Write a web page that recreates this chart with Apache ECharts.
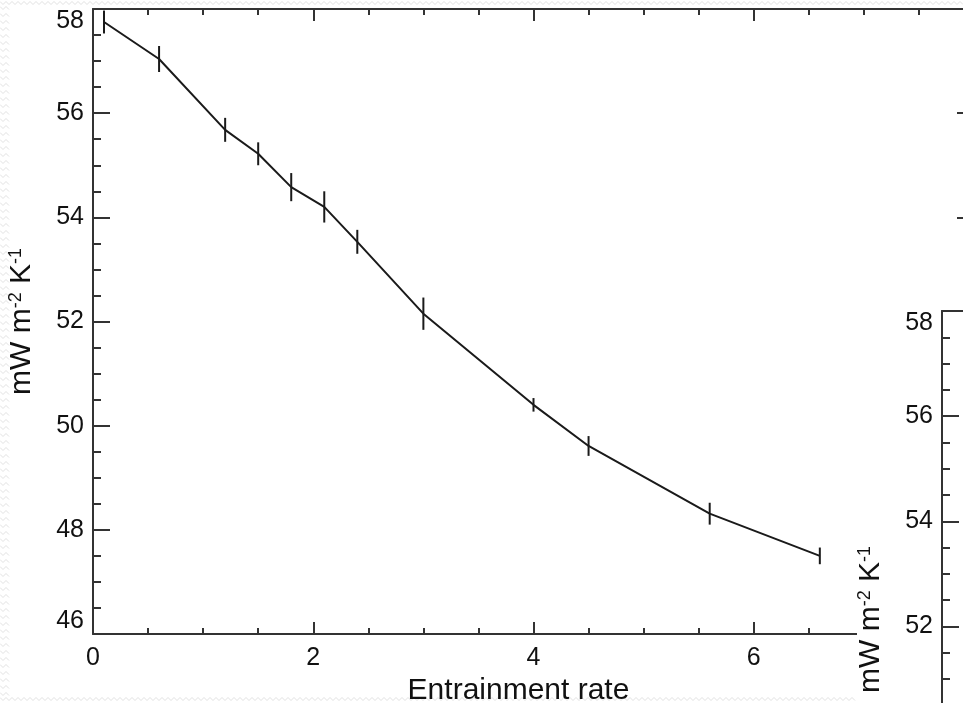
<!DOCTYPE html>
<html>
<head>
<meta charset="utf-8">
<script src="https://cdn.jsdelivr.net/npm/echarts@6/dist/echarts.min.js"></script>
<style>
html,body{margin:0;padding:0;background:#fff;}
#chart{width:963px;height:703px;}
</style>
</head>
<body>
<div id="chart"></div>
<script>
// Data
const xValues = [0.1, 0.6, 1.2, 1.5, 1.8, 2.1, 2.4, 3.0, 4.0, 4.5, 5.6, 6.6];
const yValues = [57.75, 57.04, 55.68, 55.22, 54.58, 54.20, 53.53, 52.15, 50.40, 49.61, 48.31, 47.50];
const yErrors = [0.22, 0.25, 0.23, 0.22, 0.27, 0.30, 0.23, 0.31, 0.13, 0.19, 0.21, 0.16];
const xAxisTitle = 'Entrainment rate';
const yAxisTitle = '{t|mW m}{s|-2}{t| K}{s|-1}';

const FONT = '"Liberation Sans", Arial, Helvetica, sans-serif';
const AX = '#333';
const TXT = '#111';

const lineData = xValues.map((x, i) => [x, yValues[i]]);
const errData = xValues.map((x, i) => [x, yValues[i], yValues[i] - yErrors[i], yValues[i] + yErrors[i]]);

const chart = echarts.init(document.getElementById('chart'), null, {renderer: 'canvas'});

function xAx(grid, pos, extra) {
  return Object.assign({
    gridIndex: grid, type: 'value', position: pos, min: 0, max: 8, interval: 2, z: 5,
    axisLine: {show: true, onZero: false, lineStyle: {color: AX, width: 2}},
    axisTick: {show: true, inside: true, length: 12, lineStyle: {color: AX, width: 2}},
    minorTick: {show: true, splitNumber: 4, length: 6, lineStyle: {color: AX, width: 2}},
    splitLine: {show: false}, minorSplitLine: {show: false},
    axisLabel: {show: false}
  }, extra || {});
}
function yAx(grid, pos, extra) {
  return Object.assign({
    gridIndex: grid, type: 'value', position: pos, min: 46, max: 58, interval: 2, z: 5,
    axisLine: {show: true, onZero: false, lineStyle: {color: AX, width: 2}},
    axisTick: {show: true, inside: true, length: 17, lineStyle: {color: AX, width: 2}},
    minorTick: {show: true, splitNumber: 4, length: 8, lineStyle: {color: AX, width: 2}},
    splitLine: {show: false}, minorSplitLine: {show: false},
    axisLabel: {show: false}
  }, extra || {});
}
const yLabel = {
  show: true, color: TXT, fontSize: 25, fontFamily: FONT, margin: 9,
  verticalAlignMinLabel: 'bottom', verticalAlignMaxLabel: 'top'
};
function yName(pad) {
  return {
    name: yAxisTitle, nameLocation: 'middle', nameRotate: 90, nameGap: 56,
    nameTextStyle: {
      padding: pad,
      rich: {
        t: {fontSize: 30, color: TXT, fontFamily: FONT},
        s: {fontSize: 18, color: TXT, fontFamily: FONT, verticalAlign: 'top', padding: [0, 0, 12, 0]}
      }
    }
  };
}

// faint slide-background texture around the picture's edges (decoration only)
function zigzagH(x0, x1, y) {
  const pts = [];
  for (let x = x0, k = 0; x <= x1; x += 3, k++) pts.push([x, y + (k % 2 ? 1.5 : -1.5)]);
  return {type: 'polyline', shape: {points: pts}, style: {stroke: '#e2e2e2', lineWidth: 1, fill: null}, z: 0, silent: true};
}
const texture = [zigzagH(0, 963, 3), zigzagH(0, 857, 699)];
for (let y = 8; y < 697; y += 7) texture.push(zigzagH(0, 9, y));

chart.setOption({
  animation: false,
  backgroundColor: '#fff',
  grid: [
    {left: 93, top: 9, width: 881, height: 625, outerBoundsMode: 'none', containLabel: false},
    {left: 942, top: 311, width: 800, height: 631, outerBoundsMode: 'none', containLabel: false}
  ],
  graphic: texture.concat([
    {type: 'rect', left: 857, top: 292, shape: {width: 106, height: 411}, style: {fill: '#fff'}, z: 10}
  ]),
  xAxis: [
    xAx(0, 'bottom', {
      axisLabel: {show: true, color: TXT, fontSize: 25, fontFamily: FONT, margin: 12, showMaxLabel: false},
      name: xAxisTitle, nameLocation: 'middle', nameGap: 36,
      nameTextStyle: {fontSize: 30, color: TXT, fontFamily: FONT, padding: [0, 30, 0, 0]}
    }),
    xAx(0, 'top'),
    xAx(1, 'top', {axisTick: {show: false}, minorTick: {show: false}, z: 20}),
    xAx(1, 'bottom', {axisTick: {show: false}, minorTick: {show: false}, z: 20})
  ],
  yAxis: [
    yAx(0, 'left', Object.assign({axisLabel: yLabel}, yName(0))),
    yAx(0, 'right'),
    yAx(1, 'left', Object.assign({axisLabel: yLabel, z: 20}, yName([0, 0, 0, 14])))
  ],
  series: [
    {
      type: 'line', xAxisIndex: 0, yAxisIndex: 0, data: lineData,
      symbol: 'none', lineStyle: {color: '#1a1a1a', width: 2}, z: 6
    },
    {
      type: 'custom', xAxisIndex: 0, yAxisIndex: 0, data: errData, z: 7,
      renderItem: function (params, api) {
        const p1 = api.coord([api.value(0), api.value(2)]);
        const p2 = api.coord([api.value(0), api.value(3)]);
        return {
          type: 'line',
          shape: {x1: p1[0], y1: p1[1], x2: p2[0], y2: p2[1]},
          style: {stroke: '#1a1a1a', lineWidth: 2}
        };
      }
    }
  ]
});
</script>
</body>
</html>
